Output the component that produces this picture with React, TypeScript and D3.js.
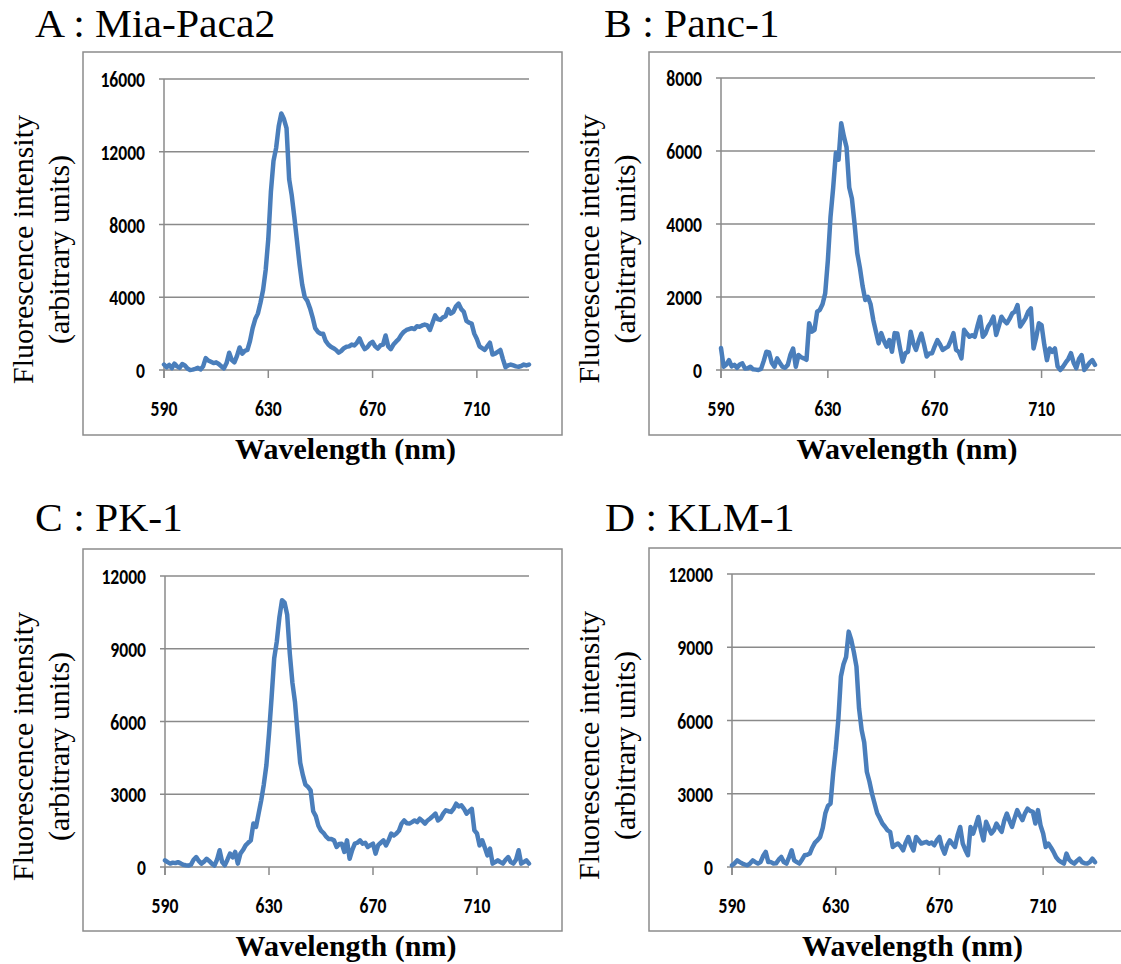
import React from "react";
import * as d3 from "d3";

// Wavelength grid (nm), 1 nm steps from 590 to 730
const wavelengths: number[] = d3.range(590, 731, 1);

const xTicks = [590, 630, 670, 710];
const yTicksA = [0, 4000, 8000, 12000, 16000];
const yTicksB = [0, 2000, 4000, 6000, 8000];
const yTicksC = [0, 3000, 6000, 9000, 12000];
const yTicksD = [0, 3000, 6000, 9000, 12000];

const titles = ["A : Mia-Paca2", "B : Panc-1", "C : PK-1", "D : KLM-1"];
const xTitle = "Wavelength (nm)";
const yTitle1 = "Fluorescence intensity";
const yTitle2 = "(arbitrary units)";

// Panel A : Mia-Paca2
const miaPaca2 = [
  300, 150, 280, 100, 350, 200, 120, 330, 250, 80,
  0, 20, 60, 120, 30, 200, 650, 520, 450, 380,
  420, 330, 200, 90, 380, 950, 550, 420, 780, 1240,
  900, 1050, 1100, 1600, 2300, 2800, 3100, 3700, 4400, 5500,
  7200, 9800, 11500, 12200, 13400, 14100, 13800, 13300, 10500, 9600,
  8400, 7100, 5800, 4700, 4000, 3800, 3400, 2900, 2300, 2100,
  2000, 2000, 1600, 1400, 1280, 1200, 1100, 950, 1050, 1200,
  1280, 1300, 1400, 1350, 1500, 1740, 1400, 1150, 1250, 1450,
  1550, 1300, 1180, 1350, 1400, 1900, 1300, 1150, 1400, 1560,
  1700, 1930, 2100, 2200, 2250, 2300, 2250, 2400, 2380, 2450,
  2500, 2450, 2200, 2600, 3000, 2800, 2750, 2900, 2950, 3350,
  3100, 3200, 3500, 3650, 3350, 3200, 2700, 2600, 2550, 2000,
  1700, 1300, 1200, 1100, 1300, 1500, 850, 900, 1000, 1100,
  600, 150, 250, 300, 250, 200, 180, 220, 300, 250,
  300,
];

// Panel B : Panc-1
const panc1 = [
  600, 90, 150, 270, 100, 140, 60, 150, 180, 40,
  50, 90, 20, 10, 0, 30, 250, 500, 480, 200,
  90, 320, 200, 90, 60, 140, 420, 590, 90, 410,
  350, 320, 280, 1280, 1050, 1100, 1600, 1650, 1800, 2100,
  3000, 4200, 5000, 5950, 5760, 6760, 6400, 6100, 5000, 4700,
  4000, 3200, 2800, 2300, 1920, 2000, 1800, 1370, 1050, 730,
  1010, 800, 640, 820, 500, 1010, 1000, 600, 230, 460,
  500, 1050, 730, 550, 800, 1000, 700, 370, 450, 460,
  650, 820, 700, 550, 600, 640, 800, 1010, 550, 500,
  320, 1100, 1000, 910, 950, 910, 1200, 1460, 910, 1000,
  1190, 1300, 1460, 960, 1200, 1460, 1350, 1280, 1400, 1550,
  1600, 1780, 1190, 1300, 1420, 1600, 1690, 590, 900, 1280,
  1230, 700, 270, 590, 500, 590, 100, 0, 90, 200,
  300, 460, 200, 50, 300, 410, 0, 100, 200, 270,
  140,
];

// Panel C : PK-1
const pk1 = [
  275, 200, 140, 180, 160, 200, 150, 90, 70, 60,
  100, 300, 410, 250, 140, 220, 340, 250, 140, 60,
  300, 690, 200, 70, 300, 550, 400, 620, 140, 550,
  700, 890, 1000, 1100, 1790, 1650, 2200, 2750, 3400, 4200,
  5500, 7000, 8600, 9300, 10300, 11000, 10900, 10400, 8800, 7600,
  6800, 5500, 4300, 3800, 3400, 3300, 3160, 2300, 2100, 1700,
  1500, 1400, 1250, 1150, 1150, 1100, 825, 950, 960, 620,
  1100, 340, 700, 960, 1000, 1100, 960, 1000, 825, 900,
  960, 550, 900, 1000, 1100, 890, 1100, 1380, 1300, 1380,
  1500, 1790, 1920, 1800, 1790, 1850, 1920, 1850, 1990, 1900,
  1790, 1920, 2000, 2100, 2200, 1920, 2000, 2200, 2340, 2300,
  2270, 2400, 2610, 2500, 2540, 2400, 2200, 2300, 2400, 1510,
  1380, 890, 1100, 800, 480, 760, 140, 200, 275, 200,
  140, 300, 410, 200, 140, 300, 690, 140, 200, 275,
  140,
];

// Panel D : KLM-1
const klm1 = [
  70, 150, 270, 200, 140, 100, 70, 150, 270, 200,
  140, 200, 450, 620, 200, 200, 140, 150, 300, 410,
  200, 140, 400, 680, 270, 200, 140, 300, 480, 500,
  550, 800, 1000, 1100, 1230, 1600, 2200, 2500, 2600, 3830,
  4800, 6020, 7800, 8300, 8600, 9640, 9300, 8800, 8210, 6500,
  5610, 5100, 3900, 3500, 3000, 2600, 2200, 2000, 1780, 1650,
  1500, 1440, 820, 900, 960, 850, 680, 1000, 1230, 900,
  680, 1230, 1100, 960, 1000, 1030, 950, 1000, 890, 1100,
  1230, 800, 550, 900, 1090, 950, 820, 1300, 1640, 960,
  700, 480, 1640, 1370, 1700, 2050, 1500, 1090, 1850, 1600,
  1370, 1500, 1780, 1600, 1440, 1900, 2190, 1900, 1640, 2000,
  2330, 2100, 1920, 2200, 2390, 2300, 2260, 1780, 2330, 1700,
  1370, 820, 960, 800, 620, 400, 270, 200, 140, 550,
  300, 200, 140, 250, 340, 200, 150, 140, 200, 340,
  200,
];

const LINE_COLOR = "#4A7EBB";
const GRID_COLOR = "#8A8A8A";
const BOX_COLOR = "#8C8C8C";
const SERIF = "'Liberation Serif', 'Times New Roman', Times, serif";
const TICK_FONT = "Carlito, Calibri, 'Liberation Sans', Arial, sans-serif";

type Layout = {
  box: { x: number; y: number; w: number; h: number };
  plot: { x0: number; x1: number; yBottom: number; yTop: number };
  titleX: number;
  titleY: number;
};

const layouts: Layout[] = [
  { box: { x: 83, y: 52, w: 479, h: 383 }, plot: { x0: 164, x1: 529, yBottom: 370, yTop: 79 }, titleX: 35, titleY: 37 },
  { box: { x: 649, y: 52, w: 500, h: 383 }, plot: { x0: 721, x1: 1095, yBottom: 370, yTop: 78 }, titleX: 604, titleY: 37 },
  { box: { x: 83, y: 549, w: 479, h: 382 }, plot: { x0: 165, x1: 529, yBottom: 867, yTop: 576 }, titleX: 35, titleY: 531 },
  { box: { x: 649, y: 548, w: 500, h: 383 }, plot: { x0: 732, x1: 1095, yBottom: 867, yTop: 574 }, titleX: 605, titleY: 531 },
];

const seriesList = [miaPaca2, panc1, pk1, klm1];
const yTickList = [yTicksA, yTicksB, yTicksC, yTicksD];

function Panel({ idx }: { idx: number }) {
  const L = layouts[idx];
  const data = seriesList[idx];
  const yTicks = yTickList[idx];
  const yMax = yTicks[yTicks.length - 1];

  const x = d3.scaleLinear().domain([590, 730]).range([L.plot.x0, L.plot.x1]);
  const y = d3.scaleLinear().domain([0, yMax]).range([L.plot.yBottom, L.plot.yTop]);

  const line = d3
    .line<number>()
    .x((_, i) => x(wavelengths[i]))
    .y((d) => y(d));

  const yCenter = (L.plot.yTop + L.plot.yBottom) / 2 + 25;
  const xCenter = (L.plot.x0 + L.plot.x1) / 2 - 1;
  const gridStart = L.plot.x0 - 5;

  return (
    <g>
      <text
        transform={`translate(${L.titleX},${L.titleY}) scale(1.04,1)`}
        fontFamily={SERIF}
        fontSize={40}
        fill="#000"
      >
        {titles[idx]}
      </text>
      <rect x={L.box.x} y={L.box.y} width={L.box.w} height={L.box.h} fill="none" stroke={BOX_COLOR} strokeWidth={1.5} />
      {/* gridlines */}
      {yTicks.map((t) => (
        <line key={"g" + t} x1={gridStart} x2={L.plot.x1} y1={y(t)} y2={y(t)} stroke={GRID_COLOR} strokeWidth={1.5} />
      ))}
      {/* y axis */}
      <line x1={L.plot.x0} x2={L.plot.x0} y1={y(yMax)} y2={L.plot.yBottom + 8} stroke={GRID_COLOR} strokeWidth={1.5} />
      {/* x ticks */}
      {xTicks.map((t) => (
        <line key={"xt" + t} x1={x(t)} x2={x(t)} y1={L.plot.yBottom} y2={L.plot.yBottom + 8} stroke={GRID_COLOR} strokeWidth={1.5} />
      ))}
      {/* y tick labels */}
      {yTicks.map((t) => (
        <text
          key={"yl" + t}
          transform={`translate(${L.plot.x0 - 19},${y(t) + 8}) scale(0.8,1)`}
          textAnchor="end"
          fontFamily={TICK_FONT}
          fontWeight="bold"
          fontSize={22}
          fill="#000"
        >
          {t}
        </text>
      ))}
      {/* x tick labels */}
      {xTicks.map((t) => (
        <text
          key={"xl" + t}
          transform={`translate(${x(t)},${L.plot.yBottom + 46}) scale(0.8,1)`}
          textAnchor="middle"
          fontFamily={TICK_FONT}
          fontWeight="bold"
          fontSize={22}
          fill="#000"
        >
          {t}
        </text>
      ))}
      {/* data line */}
      <path d={line(data) || ""} fill="none" stroke={LINE_COLOR} strokeWidth={4.5} strokeLinejoin="round" strokeLinecap="round" />
      {/* axis titles */}
      <text x={xCenter} y={L.plot.yBottom + 89} textAnchor="middle" fontFamily={SERIF} fontWeight="bold" fontSize={30} fill="#000">
        {xTitle}
      </text>
      <text
        transform={`translate(${L.box.x - 50},${yCenter}) rotate(-90)`}
        textAnchor="middle"
        fontFamily={SERIF}
        fontSize={30}
        fill="#000"
      >
        {yTitle1}
      </text>
      <text
        transform={`translate(${L.box.x - 14},${yCenter}) rotate(-90)`}
        textAnchor="middle"
        fontFamily={SERIF}
        fontSize={30}
        fill="#000"
      >
        {yTitle2}
      </text>
    </g>
  );
}

export default function App() {
  return (
    <svg
      width={1121}
      height={964}
      viewBox="0 0 1121 964"
      style={{ position: "absolute", left: 0, top: 0, background: "#fff" }}
    >
      <rect x={0} y={0} width={1121} height={964} fill="#fff" />
      {[0, 1, 2, 3].map((i) => (
        <Panel key={i} idx={i} />
      ))}
    </svg>
  );
}
